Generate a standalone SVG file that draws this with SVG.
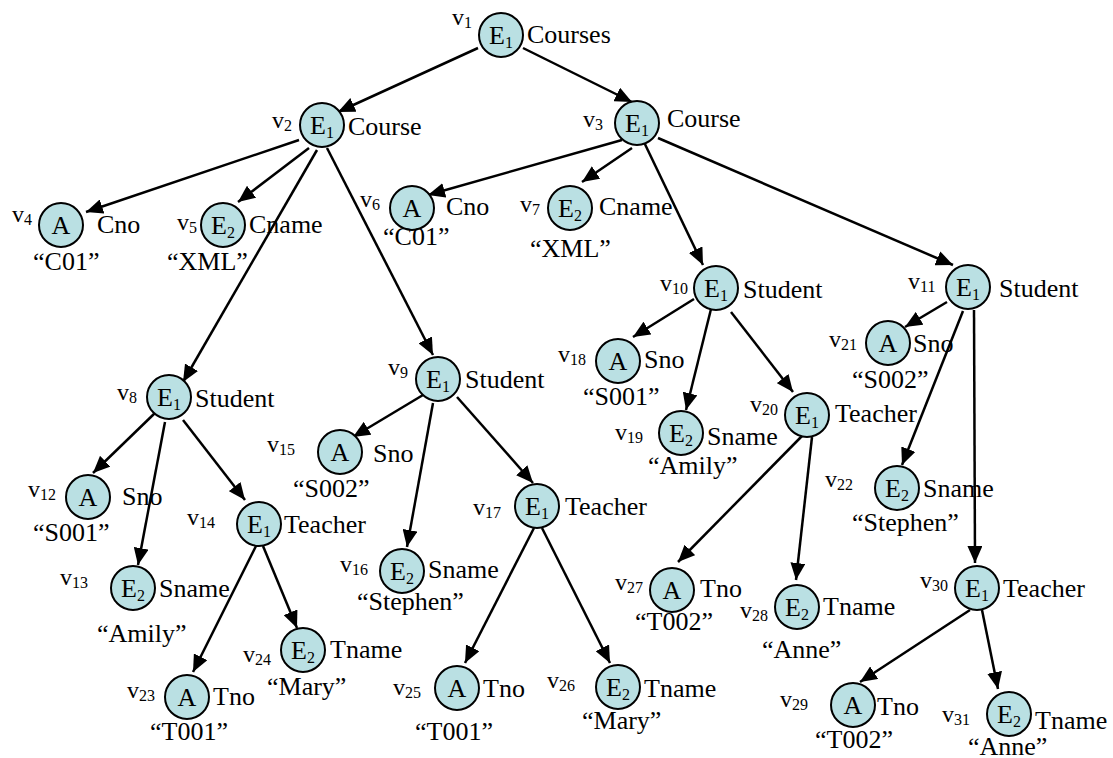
<svg xmlns="http://www.w3.org/2000/svg" width="1113" height="758" viewBox="0 0 1113 758">
<style>
text{font-family:"Liberation Serif","Times New Roman",serif;fill:#000}
.c{fill:#bae0e3;stroke:#000;stroke-width:2}
.in{font-size:26px;text-anchor:middle}
.lb{font-size:26px}
.v{font-size:24px}
.s{font-size:16px}
.e line{stroke:#000;stroke-width:2.5;marker-end:url(#ah)}
</style>
<defs>
<marker id="ah" markerUnits="userSpaceOnUse" markerWidth="18" markerHeight="15" refX="17" refY="7.5" orient="auto"><path d="M0,0 L17,7.5 L0,15 z" fill="#000"/></marker>
</defs>
<g class="e" id="connectors">
<line x1="478" y1="48" x2="338" y2="112"/>
<line x1="523" y1="48" x2="632" y2="102"/>
<line x1="299" y1="140" x2="86" y2="212"/>
<line x1="309" y1="148" x2="238" y2="202"/>
<line x1="317" y1="150" x2="183" y2="382"/>
<line x1="327" y1="148" x2="433" y2="355"/>
<line x1="622" y1="140" x2="428" y2="195"/>
<line x1="632" y1="148" x2="582" y2="182"/>
<line x1="642" y1="138" x2="703" y2="265"/>
<line x1="658" y1="138" x2="953" y2="265"/>
<line x1="155" y1="413" x2="93" y2="473"/>
<line x1="165" y1="422" x2="138" y2="565"/>
<line x1="183" y1="420" x2="245" y2="500"/>
<line x1="423" y1="395" x2="353" y2="437"/>
<line x1="433" y1="403" x2="407" y2="547"/>
<line x1="457" y1="397" x2="533" y2="483"/>
<line x1="694" y1="299" x2="633" y2="337"/>
<line x1="711" y1="309" x2="686" y2="410"/>
<line x1="731" y1="312" x2="793" y2="392"/>
<line x1="947" y1="302" x2="905" y2="327"/>
<line x1="963" y1="311" x2="902" y2="465"/>
<line x1="974" y1="310" x2="975" y2="563"/>
<line x1="256" y1="546" x2="193" y2="672"/>
<line x1="263" y1="546" x2="297" y2="628"/>
<line x1="534" y1="528" x2="465" y2="663"/>
<line x1="542" y1="528" x2="610" y2="663"/>
<line x1="802" y1="436" x2="678" y2="562"/>
<line x1="812" y1="437" x2="796" y2="580"/>
<line x1="970" y1="610" x2="860" y2="682"/>
<line x1="982" y1="610" x2="998" y2="689"/>
</g>
<g id="v1"><circle class="c" cx="501" cy="35" r="22"/><text class="in" x="501" y="44">E<tspan class="s" dy="4">1</tspan></text><text class="v" x="452" y="25">v<tspan class="s" dy="3">1</tspan></text><text class="lb" x="527" y="43">Courses</text></g>
<g id="v2"><circle class="c" cx="322" cy="125" r="22"/><text class="in" x="322" y="134">E<tspan class="s" dy="4">1</tspan></text><text class="v" x="272" y="128">v<tspan class="s" dy="3">2</tspan></text><text class="lb" x="348" y="135">Course</text></g>
<g id="v3"><circle class="c" cx="637" cy="123" r="22"/><text class="in" x="637" y="132">E<tspan class="s" dy="4">1</tspan></text><text class="v" x="583" y="127">v<tspan class="s" dy="3">3</tspan></text><text class="lb" x="667" y="127">Course</text></g>
<g id="v4"><circle class="c" cx="61" cy="225" r="22"/><text class="in" x="61" y="234">A</text><text class="v" x="12" y="222">v<tspan class="s" dy="3">4</tspan></text><text class="lb" x="97" y="233">Cno</text><text class="lb" x="33" y="270">“C01”</text></g>
<g id="v5"><circle class="c" cx="223" cy="225" r="22"/><text class="in" x="223" y="234">E<tspan class="s" dy="4">2</tspan></text><text class="v" x="177" y="230">v<tspan class="s" dy="3">5</tspan></text><text class="lb" x="249" y="233">Cname</text><text class="lb" x="167" y="270">“XML”</text></g>
<g id="v6"><circle class="c" cx="412" cy="208" r="22"/><text class="in" x="412" y="217">A</text><text class="v" x="360" y="207">v<tspan class="s" dy="3">6</tspan></text><text class="lb" x="446" y="215">Cno</text><text class="lb" x="383" y="245">“C01”</text></g>
<g id="v7"><circle class="c" cx="570" cy="208" r="22"/><text class="in" x="570" y="217">E<tspan class="s" dy="4">2</tspan></text><text class="v" x="520" y="212">v<tspan class="s" dy="3">7</tspan></text><text class="lb" x="599" y="215">Cname</text><text class="lb" x="530" y="257">“XML”</text></g>
<g id="v8"><circle class="c" cx="169" cy="397" r="22"/><text class="in" x="169" y="406">E<tspan class="s" dy="4">1</tspan></text><text class="v" x="117" y="400">v<tspan class="s" dy="3">8</tspan></text><text class="lb" x="195" y="407">Student</text></g>
<g id="v9"><circle class="c" cx="438" cy="379" r="22"/><text class="in" x="438" y="388">E<tspan class="s" dy="4">1</tspan></text><text class="v" x="388" y="375">v<tspan class="s" dy="3">9</tspan></text><text class="lb" x="465" y="388">Student</text></g>
<g id="v10"><circle class="c" cx="716" cy="288" r="22"/><text class="in" x="716" y="297">E<tspan class="s" dy="4">1</tspan></text><text class="v" x="660" y="291">v<tspan class="s" dy="3">10</tspan></text><text class="lb" x="743" y="298">Student</text></g>
<g id="v11"><circle class="c" cx="968" cy="287" r="22"/><text class="in" x="968" y="296">E<tspan class="s" dy="4">1</tspan></text><text class="v" x="908" y="289">v<tspan class="s" dy="3">11</tspan></text><text class="lb" x="999" y="297">Student</text></g>
<g id="v12"><circle class="c" cx="88" cy="497" r="22"/><text class="in" x="88" y="506">A</text><text class="v" x="28" y="497">v<tspan class="s" dy="3">12</tspan></text><text class="lb" x="122" y="505">Sno</text><text class="lb" x="33" y="541">“S001”</text></g>
<g id="v13"><circle class="c" cx="133" cy="588" r="22"/><text class="in" x="133" y="597">E<tspan class="s" dy="4">2</tspan></text><text class="v" x="60" y="585">v<tspan class="s" dy="3">13</tspan></text><text class="lb" x="159" y="597">Sname</text><text class="lb" x="97" y="642">“Amily”</text></g>
<g id="v14"><circle class="c" cx="259" cy="524" r="22"/><text class="in" x="259" y="533">E<tspan class="s" dy="4">1</tspan></text><text class="v" x="187" y="525">v<tspan class="s" dy="3">14</tspan></text><text class="lb" x="284" y="533">Teacher</text></g>
<g id="v15"><circle class="c" cx="340" cy="452" r="22"/><text class="in" x="340" y="461">A</text><text class="v" x="267" y="452">v<tspan class="s" dy="3">15</tspan></text><text class="lb" x="373" y="462">Sno</text><text class="lb" x="293" y="497">“S002”</text></g>
<g id="v16"><circle class="c" cx="402" cy="571" r="22"/><text class="in" x="402" y="580">E<tspan class="s" dy="4">2</tspan></text><text class="v" x="340" y="572">v<tspan class="s" dy="3">16</tspan></text><text class="lb" x="428" y="578">Sname</text><text class="lb" x="357" y="610">“Stephen”</text></g>
<g id="v17"><circle class="c" cx="537" cy="506" r="22"/><text class="in" x="537" y="515">E<tspan class="s" dy="4">1</tspan></text><text class="v" x="473" y="515">v<tspan class="s" dy="3">17</tspan></text><text class="lb" x="565" y="515">Teacher</text></g>
<g id="v18"><circle class="c" cx="618" cy="361" r="22"/><text class="in" x="618" y="370">A</text><text class="v" x="558" y="362">v<tspan class="s" dy="3">18</tspan></text><text class="lb" x="644" y="368">Sno</text><text class="lb" x="583" y="405">“S001”</text></g>
<g id="v19"><circle class="c" cx="681" cy="433" r="22"/><text class="in" x="681" y="442">E<tspan class="s" dy="4">2</tspan></text><text class="v" x="615" y="440">v<tspan class="s" dy="3">19</tspan></text><text class="lb" x="707" y="445">Sname</text><text class="lb" x="648" y="474">“Amily”</text></g>
<g id="v20"><circle class="c" cx="807" cy="415" r="22"/><text class="in" x="807" y="424">E<tspan class="s" dy="4">1</tspan></text><text class="v" x="750" y="412">v<tspan class="s" dy="3">20</tspan></text><text class="lb" x="835" y="422">Teacher</text></g>
<g id="v21"><circle class="c" cx="888" cy="343" r="22"/><text class="in" x="888" y="352">A</text><text class="v" x="829" y="347">v<tspan class="s" dy="3">21</tspan></text><text class="lb" x="913" y="352">Sno</text><text class="lb" x="852" y="388">“S002”</text></g>
<g id="v22"><circle class="c" cx="897" cy="488" r="22"/><text class="in" x="897" y="497">E<tspan class="s" dy="4">2</tspan></text><text class="v" x="825" y="487">v<tspan class="s" dy="3">22</tspan></text><text class="lb" x="923" y="497">Sname</text><text class="lb" x="852" y="531">“Stephen”</text></g>
<g id="v23"><circle class="c" cx="187" cy="697" r="22"/><text class="in" x="187" y="706">A</text><text class="v" x="127" y="698">v<tspan class="s" dy="3">23</tspan></text><text class="lb" x="213" y="705">Tno</text><text class="lb" x="150" y="740">“T001”</text></g>
<g id="v24"><circle class="c" cx="303" cy="650" r="22"/><text class="in" x="303" y="659">E<tspan class="s" dy="4">2</tspan></text><text class="v" x="243" y="662">v<tspan class="s" dy="3">24</tspan></text><text class="lb" x="330" y="658">Tname</text><text class="lb" x="267" y="695">“Mary”</text></g>
<g id="v25"><circle class="c" cx="457" cy="688" r="22"/><text class="in" x="457" y="697">A</text><text class="v" x="393" y="695">v<tspan class="s" dy="3">25</tspan></text><text class="lb" x="483" y="697">Tno</text><text class="lb" x="415" y="740">“T001”</text></g>
<g id="v26"><circle class="c" cx="618" cy="687" r="22"/><text class="in" x="618" y="696">E<tspan class="s" dy="4">2</tspan></text><text class="v" x="547" y="688">v<tspan class="s" dy="3">26</tspan></text><text class="lb" x="644" y="697">Tname</text><text class="lb" x="582" y="729">“Mary”</text></g>
<g id="v27"><circle class="c" cx="672" cy="590" r="22"/><text class="in" x="672" y="599">A</text><text class="v" x="615" y="590">v<tspan class="s" dy="3">27</tspan></text><text class="lb" x="700" y="597">Tno</text><text class="lb" x="635" y="630">“T002”</text></g>
<g id="v28"><circle class="c" cx="797" cy="607" r="22"/><text class="in" x="797" y="616">E<tspan class="s" dy="4">2</tspan></text><text class="v" x="740" y="618">v<tspan class="s" dy="3">28</tspan></text><text class="lb" x="823" y="615">Tname</text><text class="lb" x="762" y="658">“Anne”</text></g>
<g id="v29"><circle class="c" cx="853" cy="705" r="22"/><text class="in" x="853" y="714">A</text><text class="v" x="780" y="707">v<tspan class="s" dy="3">29</tspan></text><text class="lb" x="877" y="715">Tno</text><text class="lb" x="815" y="748">“T002”</text></g>
<g id="v30"><circle class="c" cx="977" cy="588" r="22"/><text class="in" x="977" y="597">E<tspan class="s" dy="4">1</tspan></text><text class="v" x="920" y="588">v<tspan class="s" dy="3">30</tspan></text><text class="lb" x="1003" y="597">Teacher</text></g>
<g id="v31"><circle class="c" cx="1009" cy="714" r="22"/><text class="in" x="1009" y="723">E<tspan class="s" dy="4">2</tspan></text><text class="v" x="942" y="722">v<tspan class="s" dy="3">31</tspan></text><text class="lb" x="1035" y="729">Tname</text><text class="lb" x="968" y="755">“Anne”</text></g>
</svg>
